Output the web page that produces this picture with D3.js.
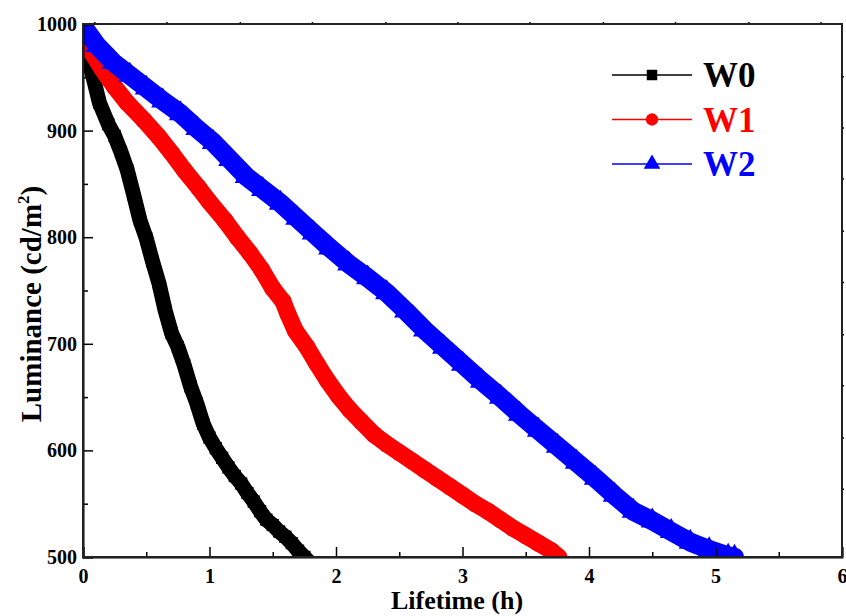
<!DOCTYPE html>
<html>
<head>
<meta charset="utf-8">
<script src="https://cdn.jsdelivr.net/npm/d3@7"></script>
<style>
  body { margin: 0; background: #fff; }
  svg { display: block; font-family: "Liberation Serif", "Times New Roman", serif; font-weight: bold; }
</style>
</head>
<body>
<div id="chart"></div>
<script>
// Values
const w0Time = [0, 0.03, 0.08, 0.13, 0.2, 0.25, 0.3, 0.35, 0.4, 0.45, 0.5, 0.55, 0.6, 0.65, 0.7, 0.75, 0.8, 0.85, 0.9, 0.95, 1.0, 1.05, 1.1, 1.15, 1.2, 1.25, 1.3, 1.35, 1.4, 1.45, 1.5, 1.55, 1.6, 1.65, 1.7, 1.75];
const w0Lum  = [982, 972, 950, 926, 906, 895, 880, 863, 840, 816, 799, 777, 757, 731, 710, 697, 680, 660, 644, 625, 612, 602, 593, 584, 576, 569, 560, 552, 543, 535, 530, 524, 519, 513, 506, 500];

const w1Time = [0, 0.07, 0.15, 0.25, 0.35, 0.48, 0.6, 0.7, 0.8, 0.91, 1.0, 1.12, 1.22, 1.32, 1.41, 1.5, 1.58, 1.62, 1.68, 1.77, 1.85, 1.93, 2.02, 2.11, 2.2, 2.3, 2.4, 2.5, 2.6, 2.7, 2.8, 2.9, 3.0, 3.1, 3.2, 3.3, 3.4, 3.5, 3.6, 3.7, 3.76];
const w1Lum  = [983, 973, 958, 941, 926, 910, 894, 879, 863, 847, 833, 816, 800, 785, 770, 752, 740, 728, 712, 697, 681, 666, 651, 638, 627, 615, 606, 598, 590, 582, 574, 566, 558, 550, 543, 535, 527, 520, 513, 506, 500];

const w2Time = [0, 0.03, 0.11, 0.24, 0.37, 0.5, 0.63, 0.77, 0.9, 1.03, 1.16, 1.29, 1.42, 1.56, 1.69, 1.82, 1.95, 2.1, 2.25, 2.4, 2.55, 2.7, 2.85, 3.0, 3.15, 3.3, 3.45, 3.6, 3.75, 3.9, 4.05, 4.2, 4.35, 4.5, 4.65, 4.8, 4.95, 5.1, 5.15];
const w2Lum  = [1000, 993, 980, 964, 952, 940, 928, 916, 902, 889, 873, 857, 845, 832, 818, 804, 790, 775, 762, 748, 731, 713, 697, 681, 665, 650, 634, 619, 604, 589, 574, 558, 543, 534, 524, 514, 507, 501, 500];

const seriesNames = ["W0", "W1", "W2"];
const seriesColors = ["#000000", "#ff0000", "#0000ff"];

const xMajor = [0, 1, 2, 3, 4, 5, 6];
const xMinor = [0.5, 1.5, 2.5, 3.5, 4.5, 5.5];
const yMajor = [500, 600, 700, 800, 900, 1000];
const yMinor = [550, 650, 750, 850, 950];
const topTicks = [0.09, 0.66, 1.24, 1.81, 2.39, 2.96, 3.53, 4.11, 4.68, 5.26, 5.83];
const rightTicks = [951, 903, 855, 806, 758, 709, 661, 612, 564];

const width = 846, height = 616;
const margin = { top: 24, right: 4, bottom: 59, left: 83 };
const iw = width - margin.left - margin.right;
const ih = height - margin.top - margin.bottom;

const svg = d3.select("#chart").append("svg")
  .attr("width", width)
  .attr("height", height);

const g = svg.append("g").attr("transform", `translate(${margin.left},${margin.top})`);

const x = d3.scaleLinear().domain([0, 6]).range([0, iw]);
const y = d3.scaleLinear().domain([500, 1000]).range([ih, 0]);

// clip so the thick bands stay inside the frame
svg.append("defs").append("clipPath").attr("id", "clip")
  .append("rect").attr("width", iw).attr("height", ih);

const series = [
  { name: seriesNames[0], color: seriesColors[0], width: 15, marker: "square",   pts: w0Time.map((t, i) => [t, w0Lum[i]]) },
  { name: seriesNames[1], color: seriesColors[1], width: 17, marker: "circle",   pts: w1Time.map((t, i) => [t, w1Lum[i]]) },
  { name: seriesNames[2], color: seriesColors[2], width: 19, marker: "triangle", pts: w2Time.map((t, i) => [t, w2Lum[i]]) }
];

const symbolType = { square: d3.symbolSquare, circle: d3.symbolCircle, triangle: d3.symbolTriangle };
const symbolSize = { square: 150, circle: 230, triangle: 230 };

const line = d3.line().x(d => x(d[0])).y(d => y(d[1])).curve(d3.curveLinear);

const plot = g.append("g").attr("clip-path", "url(#clip)");

series.forEach(s => {
  plot.append("path")
    .datum(s.pts)
    .attr("d", line)
    .attr("fill", "none")
    .attr("stroke", s.color)
    .attr("stroke-width", s.width)
    .attr("stroke-linejoin", "round")
    .attr("stroke-linecap", s.marker === "square" ? "square" : "round");

  plot.selectAll(null)
    .data(s.pts)
    .join("path")
    .attr("transform", d => `translate(${x(d[0])},${y(d[1])})`)
    .attr("d", d3.symbol().type(symbolType[s.marker]).size(symbolSize[s.marker]))
    .attr("fill", s.color);
});

// axes: ticks point inward
const bottomAxis = g.append("g").attr("transform", `translate(0,${ih})`)
  .call(d3.axisBottom(x).tickValues(xMajor).tickSize(-10).tickPadding(12).tickFormat(d3.format("d")));
g.append("g").attr("transform", `translate(0,${ih})`)
  .call(d3.axisBottom(x).tickValues(xMinor).tickSize(-5).tickFormat(""))
  .call(a => a.select(".domain").remove());

const leftAxis = g.append("g")
  .call(d3.axisLeft(y).tickValues(yMajor).tickSize(-10).tickPadding(6).tickFormat(d3.format("d")));
g.append("g")
  .call(d3.axisLeft(y).tickValues(yMinor).tickSize(-5).tickFormat(""))
  .call(a => a.select(".domain").remove());

g.append("g")
  .call(d3.axisTop(x).tickValues(topTicks).tickSize(2).tickFormat(""))
  .call(a => a.select(".domain").remove());
g.append("g").attr("transform", `translate(${iw},0)`)
  .call(d3.axisRight(y).tickValues(rightTicks).tickSize(2).tickFormat(""))
  .call(a => a.select(".domain").remove());

g.selectAll(".tick line").attr("stroke", "#000").attr("stroke-width", 1.5);
g.selectAll(".domain").attr("stroke", "#000").attr("stroke-width", 2);
[bottomAxis, leftAxis].forEach(a => a.selectAll("text")
  .attr("font-family", "Liberation Serif, Times New Roman, serif")
  .attr("font-weight", "bold")
  .attr("font-size", 20)
  .attr("fill", "#000"));

// frame
g.append("rect")
  .attr("width", iw).attr("height", ih)
  .attr("fill", "none").attr("stroke", "#222").attr("stroke-width", 2);

// axis titles
svg.append("text")
  .attr("x", 457)
  .attr("y", 609)
  .attr("text-anchor", "middle")
  .attr("font-size", 26)
  .text("Lifetime (h)");

const yl = svg.append("text")
  .attr("transform", `translate(41,${304}) rotate(-90)`)
  .attr("text-anchor", "middle")
  .attr("font-size", 29);
yl.append("tspan").text("Luminance (cd/m");
yl.append("tspan").attr("font-size", 17).attr("dy", -12).text("2");
yl.append("tspan").attr("dy", 12).text(")");

// legend
const legend = svg.append("g").attr("transform", "translate(612,75)");
series.forEach((s, i) => {
  const row = legend.append("g").attr("transform", `translate(0,${i * 44.5})`);
  row.append("line")
    .attr("x1", 0).attr("x2", 80).attr("y1", 0).attr("y2", 0)
    .attr("stroke", s.color).attr("stroke-width", 1.5);
  row.append("path")
    .attr("transform", "translate(40,0)")
    .attr("d", d3.symbol().type(symbolType[s.marker]).size(s.marker === "square" ? 110 : 120))
    .attr("fill", s.color);
  row.append("text")
    .attr("x", 91).attr("y", 12)
    .attr("font-size", 35)
    .attr("fill", s.color)
    .text(s.name);
});
</script>
</body>
</html>
